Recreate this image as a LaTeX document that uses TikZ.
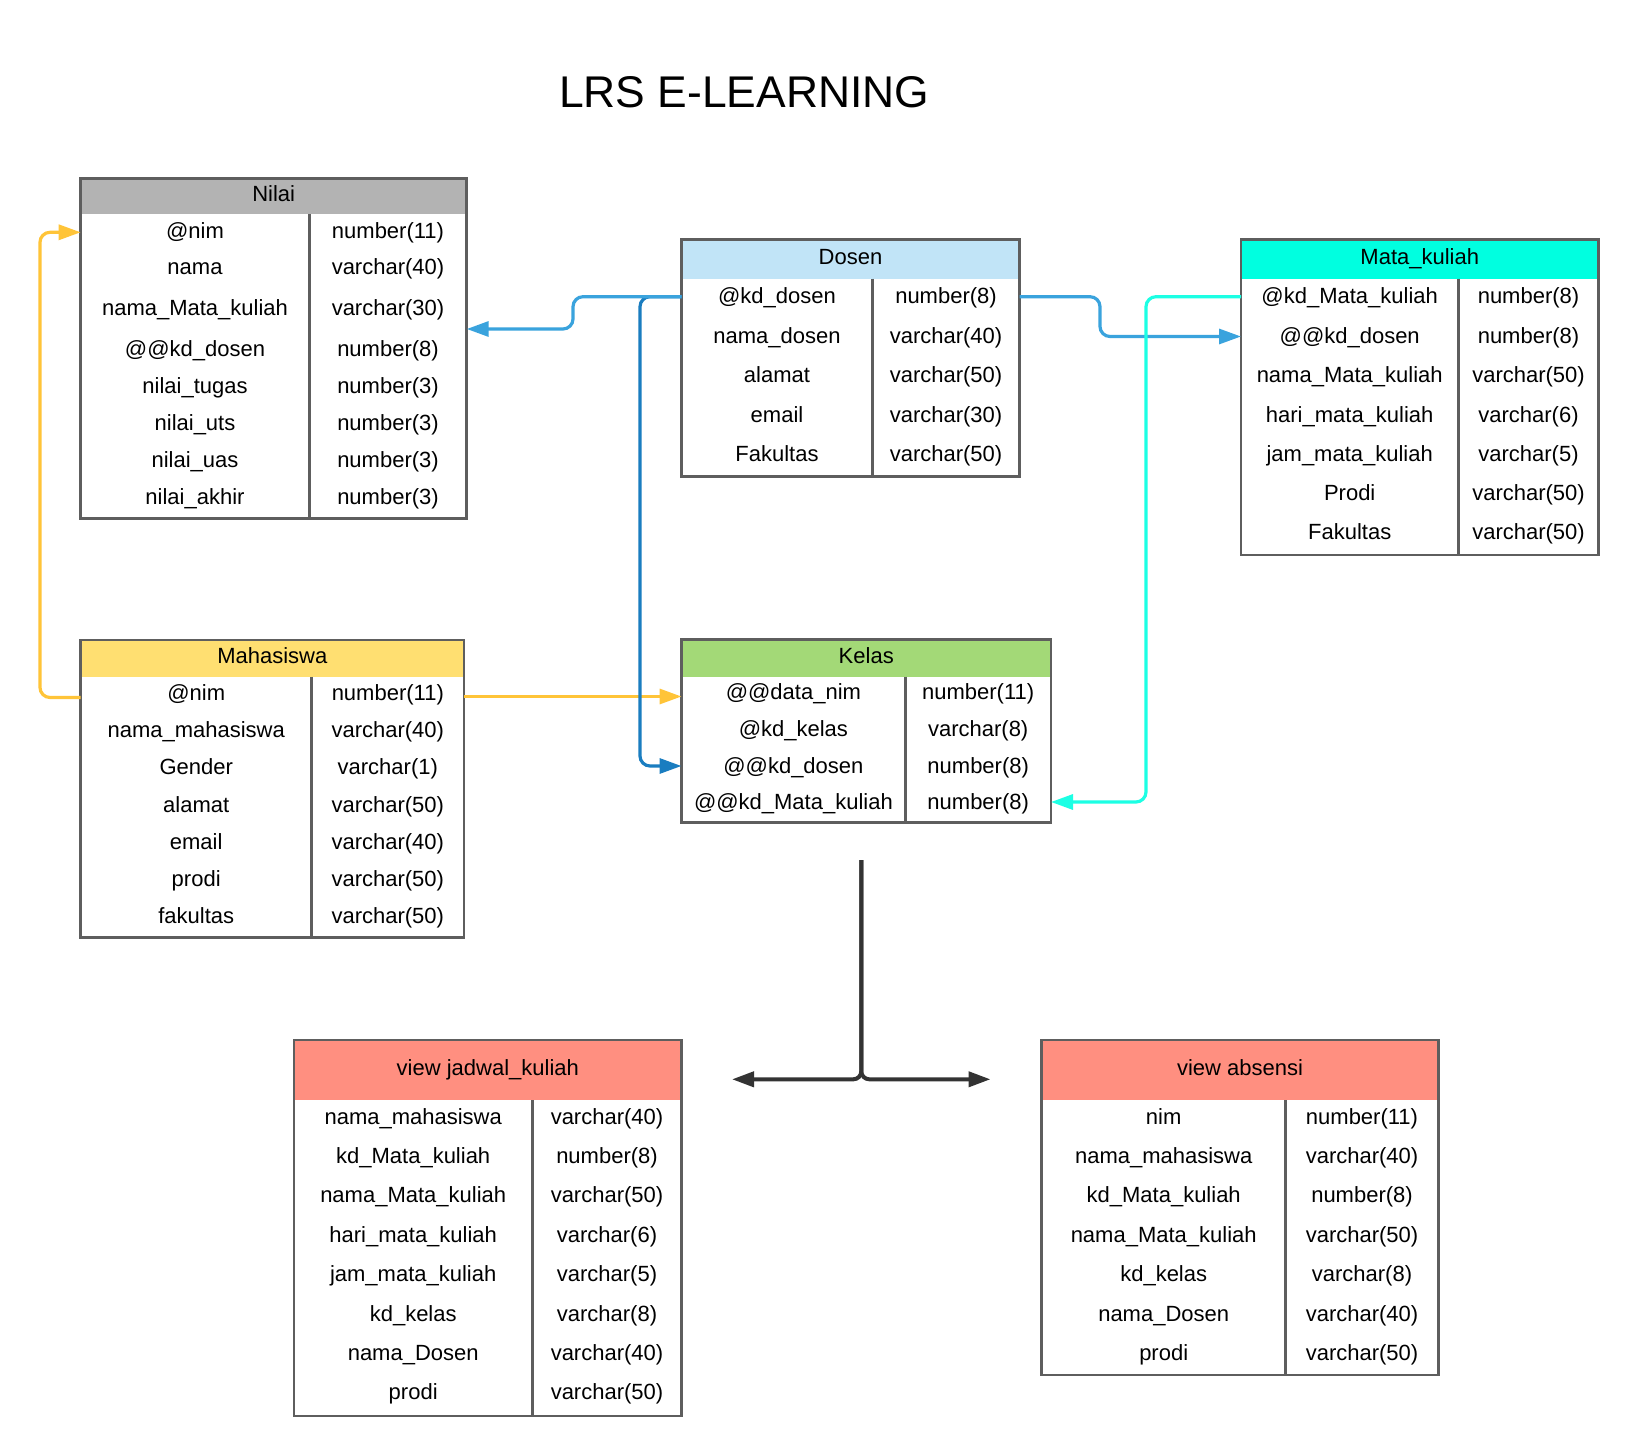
\documentclass[tikz,border=0pt]{standalone}
\usepackage{fontspec}
\setmainfont{Liberation Sans}
\usetikzlibrary{arrows.meta,fit}

\definecolor{bordc}{HTML}{5E5E5E}
\definecolor{hgray}{HTML}{B3B3B3}
\definecolor{hblue}{HTML}{C1E4F7}
\definecolor{hcyan}{HTML}{00FFE0}
\definecolor{hyellow}{HTML}{FFDF71}
\definecolor{hgreen}{HTML}{A3D977}
\definecolor{hsalmon}{HTML}{FF8F80}
\definecolor{lyellow}{HTML}{FFC438}
\definecolor{lblue}{HTML}{3AA3DD}
\definecolor{dblue}{HTML}{1A7DC0}
\definecolor{lcyan}{HTML}{1CFFE4}
\definecolor{darkc}{HTML}{333333}

\tikzset{
 tbox/.style={draw=bordc, line width=1.3pt, inner sep=0pt, outer sep=0pt},
 cell/.style={anchor=base, inner sep=0pt, font=\fontsize{11}{13}\selectfont},
 htext/.style={anchor=base, inner sep=0pt, font=\fontsize{11}{13}\selectfont},
 conn/.style={line width=1.6pt, rounded corners=5pt},
 arrowend/.style={-{Triangle[length=11pt,width=7.5pt]}},
}

% #1 name, #2 x0, #3 y0, #4 x1, #5 yh, #6 y1, #7 xd, #8 color, #9 header
\newcommand\erdtable[9]{%
 \fill[#8] (#2,#3) rectangle (#4,#5);
 \draw[bordc, line width=1.3pt] (#7,#5) -- (#7,#6);
 \node[tbox, fit={(#2,#3) (#4,#6)}] (#1) {};
 \node[htext] (#1-h) at ({(#2+#4)/2}, {(#3+#5)/2+5.2}) {#9};
}
% #1 name, #2 x left col, #3 x right col, #4 list y/a/b
\newcommand\erdrows[4]{%
 \foreach \yy/\aa/\bb [count=\ii] in {#4} {
   \node[cell] (#1-l\ii) at (#2,\yy+7.2) {\aa};
   \node[cell] (#1-r\ii) at (#3,\yy+7.2) {\bb};
 }}

\begin{document}
\begin{tikzpicture}[x=0.5pt, y=-0.5pt]
\useasboundingbox (0,0) rectangle (1639,1455);
\fill[white] (0,0) rectangle (1639,1455);

\node[anchor=base, inner sep=0pt, font=\fontsize{22.2}{26}\selectfont] (title) at (744.2,107.3) {LRS E-LEARNING};

% Nilai
\erdtable{nilai}{80.7}{178.3}{466.7}{214.3}{518.3}{309.3}{hgray}{Nilai}
\erdrows{nilai}{195}{388}{231.7/@nim/number(11), 267.7/nama/varchar(40), 308.3/nama\_Mata\_kuliah/varchar(30), 349.3/@@kd\_dosen/number(8), 386.7/nilai\_tugas/number(3), 423.3/nilai\_uts/number(3), 460/nilai\_uas/number(3), 497.3/nilai\_akhir/number(3)}

% Dosen
\erdtable{dosen}{681.5}{239.3}{1019.5}{278.7}{476.7}{872.5}{hblue}{Dosen}
\erdrows{dosen}{777}{946}{296.7/@kd\_dosen/number(8), 336/nama\_dosen/varchar(40), 375.3/alamat/varchar(50), 415/email/varchar(30), 454.3/Fakultas/varchar(50)}

% Mata_kuliah
\erdtable{mk}{1241}{239.3}{1598.5}{278.7}{555}{1458.5}{hcyan}{Mata\_kuliah}
\erdrows{mk}{1349.7}{1528.5}{296.7/@kd\_Mata\_kuliah/number(8), 336/@@kd\_dosen/number(8), 375.3/nama\_Mata\_kuliah/varchar(50), 415/hari\_mata\_kuliah/varchar(6), 454.3/jam\_mata\_kuliah/varchar(5), 493.3/Prodi/varchar(50), 532.7/Fakultas/varchar(50)}

% Mahasiswa
\erdtable{mhs}{80.7}{640}{464}{676.7}{937.3}{311.7}{hyellow}{Mahasiswa}
\erdrows{mhs}{196.2}{387.8}{693.3/@nim/number(11), 730.7/nama\_mahasiswa/varchar(40), 767.7/Gender/varchar(1), 805/alamat/varchar(50), 842.3/email/varchar(40), 879.7/prodi/varchar(50), 916.7/fakultas/varchar(50)}

% Kelas
\erdtable{kelas}{681.5}{639.5}{1051}{676.5}{822.7}{905.3}{hgreen}{Kelas}
\erdrows{kelas}{793.4}{978.2}{692.7/@@data\_nim/number(11), 729.3/@kd\_kelas/varchar(8), 766/@@kd\_dosen/number(8), 802.7/@@kd\_Mata\_kuliah/number(8)}

% view jadwal_kuliah
\erdtable{vjk}{294}{1040}{681.7}{1100}{1416}{532.3}{hsalmon}{view jadwal\_kuliah}
\erdrows{vjk}{413.2}{607}{1117.3/nama\_mahasiswa/varchar(40), 1156.7/kd\_Mata\_kuliah/number(8), 1195.7/nama\_Mata\_kuliah/varchar(50), 1235/hari\_mata\_kuliah/varchar(6), 1274.3/jam\_mata\_kuliah/varchar(5), 1314/kd\_kelas/varchar(8), 1353.3/nama\_Dosen/varchar(40), 1392.3/prodi/varchar(50)}

% view absensi
\erdtable{vab}{1041.7}{1040}{1438.3}{1100}{1375}{1285.7}{hsalmon}{view absensi}
\erdrows{vab}{1163.7}{1362}{1117.3/nim/number(11), 1156.7/nama\_mahasiswa/varchar(40), 1195.7/kd\_Mata\_kuliah/number(8), 1235/nama\_Mata\_kuliah/varchar(50), 1274.3/kd\_kelas/varchar(8), 1314/nama\_Dosen/varchar(40), 1353.3/prodi/varchar(50)}

% connectors
\draw[conn, lyellow, arrowend] (mhs.west |- 0,697.5) -- (40,697.5) -- (40,232.3) -- (nilai.west |- 0,232.3);
\draw[conn, lyellow, arrowend] (mhs.east |- 0,696.5) -- (kelas.west |- 0,696.5);
\draw[conn, dblue, arrowend] (dosen.west |- 0,296.7) -- (640,296.7) -- (640,766) -- (kelas.west |- 0,766);
\draw[conn, lblue, arrowend] (dosen.west |- 0,296.7) -- (573,296.7) -- (573,329) -- (nilai.east |- 0,329);
\draw[conn, lblue, arrowend] (dosen.east |- 0,296.7) -- (1100,296.7) -- (1100,336.5) -- (mk.west |- 0,336.5);
\draw[conn, lcyan, arrowend] (mk.west |- 0,296.7) -- (1146,296.7) -- (1146,802) -- (kelas.east |- 0,802);

\coordinate (split) at (861.3,860);
\coordinate (toJ) at (732,1079.3);
\coordinate (toA) at (990.5,1079.3);
\draw[conn, darkc, line width=2pt, rounded corners=4pt, arrowend] (split) |- (toJ);
\draw[conn, darkc, line width=2pt, rounded corners=4pt, arrowend] (split) |- (toA);
\end{tikzpicture}
\end{document}
